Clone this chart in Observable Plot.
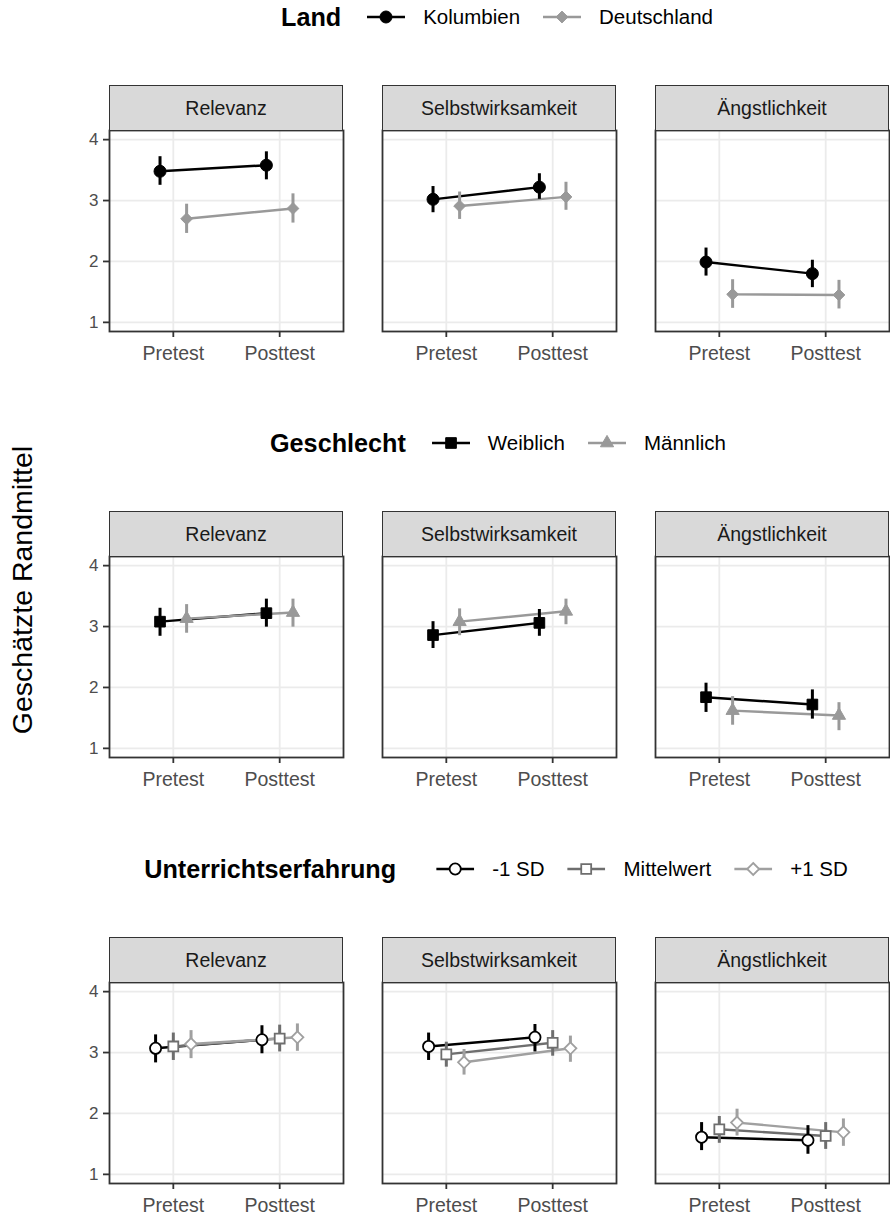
<!DOCTYPE html>
<html><head><meta charset="utf-8">
<script src="https://cdn.jsdelivr.net/npm/d3@7"></script>
<script src="https://cdn.jsdelivr.net/npm/@observablehq/plot@0.6"></script>
<style>
body{margin:0;background:#fff;font-family:"Liberation Sans",Arial,Helvetica,sans-serif;}
#root{position:relative;width:890px;height:1217px;overflow:hidden;background:#fff;}
.legend{position:absolute;display:flex;align-items:center;white-space:nowrap;color:#000;height:34px;transform:translateX(-50%);}
.legend .title{font-weight:bold;font-size:25.2px;}
.legend .lab{font-size:20.5px;color:#000;}
.legend svg{display:block;}
.strip{position:absolute;background:#d9d9d9;border:1.8px solid #333;box-sizing:border-box;display:flex;align-items:center;justify-content:center;font-size:19.5px;color:#1a1a1a;}
.ytitle{position:absolute;font-size:28.5px;color:#000;white-space:nowrap;transform:translate(-50%,-50%) rotate(-90deg);}
.chart{position:absolute;left:0;}
</style></head>
<body><div id="root"></div>
<script>
// ---- categories ----
const constructs = ["Relevanz", "Selbstwirksamkeit", "Ängstlichkeit"];
const times = ["Pretest", "Posttest"];

// ---- Row 1: Land ----  order: construct → group → time
const landGroups = ["Kolumbien", "Deutschland"];
const landEst = [3.48, 3.58, 2.70, 2.87,   3.02, 3.22, 2.91, 3.06,   1.99, 1.80, 1.46, 1.45];
const landLo  = [3.25, 3.34, 2.46, 2.63,   2.80, 3.02, 2.69, 2.84,   1.76, 1.57, 1.23, 1.22];
const landHi  = [3.72, 3.80, 2.94, 3.11,   3.23, 3.44, 3.14, 3.30,   2.22, 2.02, 1.70, 1.69];

// ---- Row 2: Geschlecht ----
const sexGroups = ["Weiblich", "Männlich"];
const sexEst = [3.08, 3.22, 3.13, 3.23,   2.86, 3.06, 3.08, 3.25,   1.84, 1.72, 1.62, 1.54];
const sexLo  = [2.84, 2.99, 2.89, 2.99,   2.64, 2.84, 2.85, 3.03,   1.59, 1.48, 1.38, 1.29];
const sexHi  = [3.30, 3.45, 3.36, 3.45,   3.08, 3.28, 3.29, 3.45,   2.07, 1.96, 1.85, 1.75];

// ---- Row 3: Unterrichtserfahrung ----
const expGroups = ["-1 SD", "Mittelwert", "+1 SD"];
const expEst = [3.07, 3.21, 3.10, 3.23, 3.14, 3.25,   3.10, 3.25, 2.97, 3.16, 2.84, 3.07,   1.61, 1.56, 1.74, 1.63, 1.85, 1.69];
const expLo  = [2.83, 2.98, 2.87, 3.01, 2.90, 3.02,   2.87, 3.01, 2.76, 2.94, 2.63, 2.84,   1.39, 1.33, 1.51, 1.41, 1.63, 1.46];
const expHi  = [3.29, 3.44, 3.32, 3.45, 3.36, 3.47,   3.32, 3.46, 3.17, 3.36, 3.05, 3.27,   1.85, 1.80, 1.95, 1.85, 2.07, 1.91];

const yTicks = [1, 2, 3, 4];

const rows = [
  {title: "Land", groups: landGroups, est: landEst, lo: landLo, hi: landHi,
   colors: ["#000000", "#999999"], symbols: ["circle", "diamond2"], radii: [6.0, 5.3], hollow: false,
   legendX: 497, titleGap: 26},
  {title: "Geschlecht", groups: sexGroups, est: sexEst, lo: sexLo, hi: sexHi,
   colors: ["#000000", "#999999"], symbols: ["square", "triangle"], radii: [6.0, 4.9], hollow: false,
   legendX: 498, titleGap: 26},
  {title: "Unterrichtserfahrung", groups: expGroups, est: expEst, lo: expLo, hi: expHi,
   colors: ["#000000", "#6e6e6e", "#a0a0a0"], symbols: ["circle", "square", "diamond2"], radii: [5.6, 5.6, 5.4], hollow: true,
   legendX: 496, titleGap: 40}
];

const root = document.getElementById("root");
const dodgeWidth = 0.5;
const rowStep = 426;
const symMap = {circle: d3.symbolCircle, square: d3.symbolSquare, diamond2: d3.symbolDiamond2, triangle: d3.symbolTriangle};

function buildTable(spec) {
  const n = spec.groups.length, out = [];
  let k = 0;
  constructs.forEach(c => spec.groups.forEach((g, gi) => times.forEach((t, ti) => {
    out.push({construct: c, group: g, time: t,
      xpos: (ti + 1) + (gi - (n - 1) / 2) * (dodgeWidth / n),
      est: spec.est[k], lo: spec.lo[k], hi: spec.hi[k]});
    k++;
  })));
  return out;
}

function makeLegend(spec, centerY) {
  const div = document.createElement("div");
  div.className = "legend";
  div.style.left = spec.legendX + "px";
  div.style.top = (centerY - 17) + "px";
  const t = document.createElement("span");
  t.className = "title"; t.textContent = spec.title; t.style.marginRight = spec.titleGap + "px";
  div.appendChild(t);
  spec.groups.forEach((g, i) => {
    const svg = d3.create("svg").attr("width", 38).attr("height", 24);
    svg.append("line").attr("x1", 0).attr("x2", 38).attr("y1", 12).attr("y2", 12)
      .attr("stroke", spec.colors[i]).attr("stroke-width", 2.4);
    const r = spec.radii[i];
    svg.append("path").attr("transform", "translate(19,12)")
      .attr("d", d3.symbol(symMap[spec.symbols[i]], Math.PI * r * r)())
      .attr("fill", spec.hollow ? "white" : spec.colors[i])
      .attr("stroke", spec.colors[i]).attr("stroke-width", spec.hollow ? 1.8 : 1);
    div.appendChild(svg.node());
    const l = document.createElement("span");
    l.className = "lab"; l.textContent = g;
    l.style.marginLeft = "18px"; l.style.marginRight = (i < spec.groups.length - 1 ? 23 : 0) + "px";
    div.appendChild(l);
  });
  root.appendChild(div);
}

rows.forEach((spec, ri) => {
  const T = ri * rowStep;
  const data = buildTable(spec);
  makeLegend(spec, T + 17);
  const dotMarks = spec.groups.map((g, gi) => Plot.dot(data, {
    filter: d => d.group === g, fx: "construct", x: "xpos", y: "est",
    symbol: "group", stroke: "group", fill: spec.hollow ? "white" : "group",
    r: spec.radii[gi], strokeWidth: spec.hollow ? 1.8 : 1
  }));
  const chart = Plot.plot({
    width: 890, height: 286,
    marginTop: 45, marginBottom: 40, marginLeft: 108, marginRight: 1,
    style: {background: "transparent", fontFamily: "Liberation Sans, Arial, sans-serif", overflow: "visible"},
    fx: {domain: constructs, paddingInner: 0.1444, paddingOuter: 0, axis: null, label: null},
    x: {domain: [0.4, 2.6], axis: null},
    y: {domain: [0.85, 4.15], axis: null},
    color: {domain: spec.groups, range: spec.colors},
    symbol: {domain: spec.groups, range: spec.symbols},
    marks: [
      Plot.gridX([1, 2], {stroke: "#ebebeb", strokeOpacity: 1, strokeWidth: 1.8}),
      Plot.gridY(yTicks, {stroke: "#ebebeb", strokeOpacity: 1, strokeWidth: 1.8}),
      Plot.line(data, {fx: "construct", x: "xpos", y: "est", z: "group", stroke: "group", strokeWidth: 2.4}),
      Plot.ruleX(data, {fx: "construct", x: "xpos", y1: "lo", y2: "hi", stroke: "group", strokeWidth: 3}),
      ...dotMarks,
      Plot.frame({stroke: "#333333", strokeWidth: 1.8}),
      Plot.axisX([1, 2], {tickFormat: i => times[i - 1], tickSize: 6, tickPadding: 9,
        stroke: "#333333", strokeWidth: 1.8, fill: "#4d4d4d", fontSize: 19.5, label: null}),
      Plot.axisY(yTicks, {tickFormat: d3.format("d"), tickSize: 6, tickPadding: 5, stroke: "#333333", strokeWidth: 1.8,
        fill: "#4d4d4d", fontSize: 17, label: null})
    ]
  });
  chart.classList.add("chart");
  chart.style.top = (T + 85) + "px";
  root.appendChild(chart);
  const fx = chart.scale("fx");
  constructs.forEach(c => {
    const s = document.createElement("div");
    s.className = "strip";
    s.textContent = c;
    s.style.left = fx.apply(c) + "px";
    s.style.top = (T + 85) + "px";
    s.style.width = fx.bandwidth + "px";
    s.style.height = "46px";
    root.appendChild(s);
  });
});

const yt = document.createElement("div");
yt.className = "ytitle";
yt.textContent = "Geschätzte Randmittel";
yt.style.left = "22px"; yt.style.top = "590px";
root.appendChild(yt);
</script></body></html>
